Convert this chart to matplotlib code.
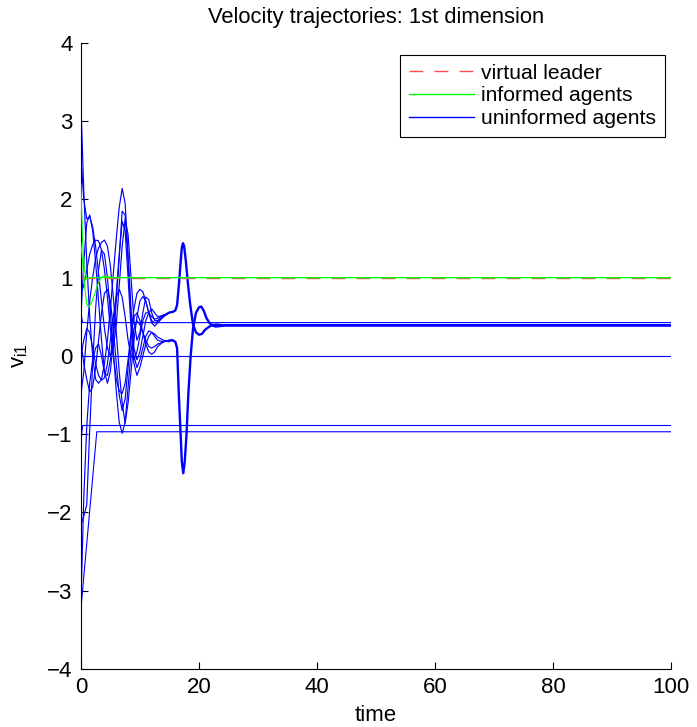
import numpy as np
import matplotlib
matplotlib.use('Agg')
import matplotlib.pyplot as plt

plt.rcParams['font.family'] = ['Liberation Sans', 'DejaVu Sans']
plt.rcParams['font.size'] = 16

# ---- data ----
t_end = 100

# virtual leader
leader_t = [0, 100]
leader_v = [1.0, 1.0]

# informed agents (green)
green1_t = [0, 0.3, 0.6, 1.0, 1.5, 100]
green1_v = [2.2, 1.45, 1.1, 0.98, 1.0, 1.0]
green2_t = [0, 0.3, 0.7, 1.0, 1.3, 1.8, 2.3, 2.8, 3.3, 3.8, 4.5, 5.5, 100]
green2_v = [1.45, 1.2, 0.85, 0.66, 0.62, 0.68, 0.78, 0.9, 0.98, 1.02, 1.01, 1.0, 1.0]

# uninformed agents (blue): early oscillations, sampled every 0.5 time units
early_t = [0, 0.5, 1, 1.5, 2, 2.5, 3, 3.5, 4, 4.5, 5, 5.5, 6, 6.5, 7, 7.5,
           8, 8.5, 9, 9.5, 10, 10.5, 11, 11.5, 12, 12.5, 13, 14, 15, 15.5]

# agents ending in the upper group (spike up at t~17)
blue1_v = [3.25, 2.1, 1.2, 0.5, 0.0, -0.3, -0.35, -0.3, -0.1, 0.2, 0.6, 1.05, 1.5, 1.9, 2.14, 1.95,
           1.3, 0.6, 0.1, -0.05, 0.05, 0.25, 0.45, 0.55, 0.6, 0.55, 0.5, 0.52, 0.55, 0.56]
blue2_v = [2.55, 2.0, 1.75, 1.78, 1.65, 1.4, 1.05, 0.7, 0.35, 0.1, 0.0, 0.1, 0.4, 0.9, 1.4, 1.75,
           1.55, 1.0, 0.45, 0.2, 0.3, 0.55, 0.75, 0.72, 0.55, 0.45, 0.45, 0.52, 0.56, 0.56]
blue3_v = [0.8, 0.9, 1.1, 1.3, 1.42, 1.48, 1.47, 1.35, 1.1, 0.75, 0.35, 0.0, -0.3, -0.45, -0.48, -0.35,
           -0.05, 0.3, 0.6, 0.8, 0.85, 0.82, 0.7, 0.55, 0.45, 0.42, 0.44, 0.5, 0.55, 0.56]
blue4_v = [-0.5, -0.2, 0.3, 0.7, 1.0, 1.25, 1.38, 1.45, 1.48, 1.4, 1.15, 0.75, 0.3, -0.2, -0.6, -0.86,
           -0.6, -0.2, 0.2, 0.5, 0.7, 0.76, 0.7, 0.55, 0.42, 0.38, 0.42, 0.5, 0.56, 0.56]
blue5_v = [0.0, 0.2, 0.35, 0.3, 0.1, -0.1, -0.25, -0.31, -0.28, -0.1, 0.2, 0.5, 0.75, 0.85, 0.75, 0.5,
           0.2, 0.0, -0.05, 0.05, 0.25, 0.45, 0.55, 0.55, 0.5, 0.47, 0.48, 0.52, 0.55, 0.56]

# agents ending in the lower group (spike down at t~17)
blue6_v = [-2.16, -2.05, -1.9, -0.95, -0.1, 0.6, 1.1, 1.35, 1.3, 1.0, 0.55, 0.05, -0.45, -0.85, -0.99, -0.85,
           -0.4, 0.05, 0.35, 0.45, 0.4, 0.3, 0.2, 0.12, 0.1, 0.12, 0.15, 0.18, 0.2, 0.2]
blue7_v = [-3.2, -1.8, -0.9, -0.35, -0.05, 0.1, 0.15, 0.0, -0.22, -0.25, -0.05, 0.35, 0.8, 1.3, 1.72, 1.6,
           1.0, 0.35, -0.1, -0.25, -0.15, 0.0, 0.15, 0.25, 0.3, 0.28, 0.24, 0.2, 0.18, 0.2]
blue8_v = [0.5, 1.2, 1.7, 1.8, 1.6, 1.2, 0.7, 0.2, -0.2, -0.35, -0.2, 0.2, 0.7, 1.25, 1.85, 1.8,
           1.2, 0.5, 0.0, -0.15, -0.05, 0.1, 0.25, 0.32, 0.3, 0.25, 0.2, 0.18, 0.2, 0.2]
blue9_v = [0.2, -0.1, -0.3, -0.46, -0.4, -0.15, 0.2, 0.55, 0.8, 0.85, 0.7, 0.35, -0.1, -0.5, -0.7, -0.55,
           -0.15, 0.25, 0.5, 0.55, 0.45, 0.3, 0.15, 0.05, 0.02, 0.05, 0.12, 0.18, 0.2, 0.2]

# common tails of the two groups after they have merged
upper_t = [15.5, 16.0, 16.3, 16.6, 16.9, 17.1, 17.3, 17.5, 17.8, 18.1, 18.5, 19.0, 19.5, 20.0,
           20.5, 21.0, 21.5, 22.0, 22.5, 23.0, 23.5, 24.0, 25.0, 100]
upper_v = [0.56, 0.58, 0.65, 0.9, 1.2, 1.38, 1.44, 1.4, 1.2, 0.95, 0.67, 0.4, 0.3, 0.27,
           0.28, 0.33, 0.36, 0.385, 0.395, 0.4, 0.395, 0.39, 0.39, 0.39]
lower_t = [15.5, 16.0, 16.3, 16.6, 16.9, 17.1, 17.35, 17.6, 17.9, 18.2, 18.6, 19.0, 19.5, 20.0,
           20.4, 20.8, 21.3, 21.8, 22.3, 22.8, 23.5, 24.5, 25.5, 100]
lower_v = [0.2, 0.18, 0.1, -0.5, -1.0, -1.35, -1.5, -1.35, -1.0, -0.5, 0.0, 0.35, 0.55, 0.62,
           0.63, 0.58, 0.48, 0.42, 0.39, 0.375, 0.38, 0.39, 0.39, 0.39]

# agents that stop early at a constant velocity
const_lines = [
    ([0, 0.3, 100], [0.55, 0.425, 0.425]),
    ([0, 100], [0.0, 0.0]),
    ([0, 0.3, 100], [-1.1, -0.89, -0.89]),
    ([0, 2.7, 100], [-3.24, -0.97, -0.97]),
]

upper_group = [blue1_v, blue2_v, blue3_v, blue4_v, blue5_v]
lower_group = [blue6_v, blue7_v, blue8_v, blue9_v]

# ---- plot ----
fig = plt.figure(figsize=(6.97, 7.27), dpi=100)
ax = fig.add_axes([0.116, 0.080, 0.847, 0.861])

blue = (0, 0, 1)
red = (1, 0.3, 0.3)
green = (0, 1, 0)
for tt, vv in const_lines:
    ax.plot(tt, vv, color=blue, lw=0.8)
for vv in upper_group + lower_group:
    ax.plot(early_t, vv, color=blue, lw=0.85)
ax.plot(upper_t, upper_v, color=blue, lw=1.7)
ax.plot(lower_t, lower_v, color=blue, lw=1.7)

ax.plot(leader_t, leader_v, color=red, lw=1.0, ls=(0, (10, 8)), zorder=2)
ax.plot(green1_t, green1_v, color=green, lw=0.8, zorder=3)
ax.plot(green2_t, green2_v, color=green, lw=0.8, zorder=3)

# legend proxies
h1, = ax.plot([], [], color=red, lw=1.0, ls=(0, (10, 8)), label='virtual leader')
h2, = ax.plot([], [], color=green, lw=1.0, label='informed agents')
h3, = ax.plot([], [], color=blue, lw=1.0, label='uninformed agents')
leg = ax.legend(handles=[h1, h2, h3], loc='upper right', bbox_to_anchor=(0.99, 0.981),
                borderaxespad=0, fancybox=False, framealpha=1, edgecolor='black',
                fontsize=15.2, handlelength=3.1, handletextpad=0.35, borderpad=0.42,
                labelspacing=0.18)
leg.get_frame().set_linewidth(0.8)

ax.set_xlim(0, t_end)
ax.set_ylim(-4, 4)
ax.set_xticks([0, 20, 40, 60, 80, 100])
ax.set_yticks([-4, -3, -2, -1, 0, 1, 2, 3, 4])
ax.tick_params(direction='in', length=5, width=0.8, pad=6)
ax.spines['top'].set_visible(False)
ax.spines['right'].set_visible(False)
ax.set_title('Velocity trajectories: 1st dimension', fontsize=15.8, pad=14)
ax.set_xlabel('time', labelpad=5)
ax.set_ylabel(r'$\mathregular{v_{i1}}$', labelpad=12)

fig.savefig('out.png', dpi=100)
